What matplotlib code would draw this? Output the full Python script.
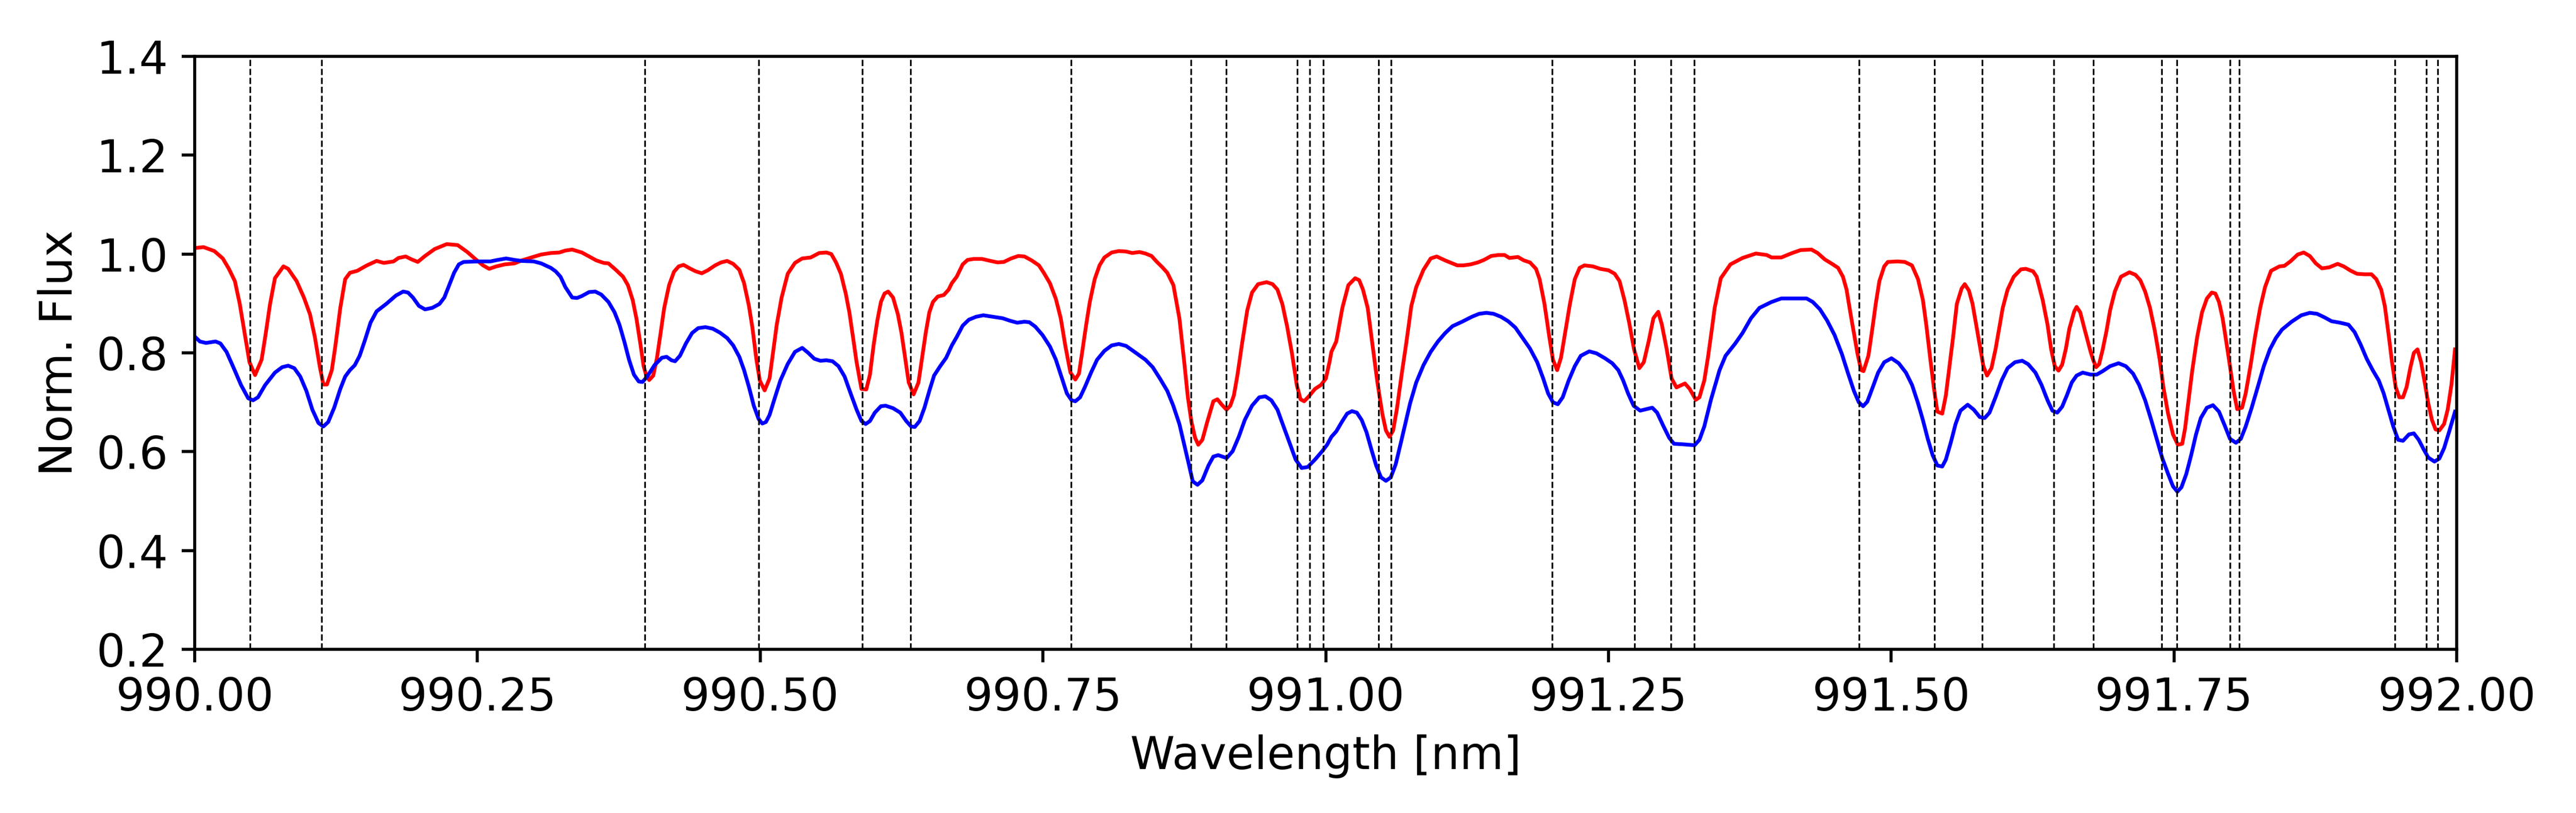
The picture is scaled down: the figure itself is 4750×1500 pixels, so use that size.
import numpy as np
import matplotlib
matplotlib.use('Agg')
import matplotlib.pyplot as plt
from matplotlib.ticker import FormatStrFormatter

# red spectrum (wavelength in nm, normalised flux)
red_wl = [
    990.0000, 990.0077, 990.0173, 990.0248, 990.0302, 990.0355, 990.0398, 990.0441, 990.0484, 990.0533,
    990.0591, 990.0623, 990.0666, 990.0709, 990.0784, 990.0826, 990.0901, 990.0965, 990.1019, 990.1062,
    990.1105, 990.1137, 990.1169, 990.1212, 990.1244, 990.1287, 990.1330, 990.1372, 990.1437, 990.1522,
    990.1608, 990.1672, 990.1758, 990.1801, 990.1865, 990.1918, 990.1972, 990.2036, 990.2121, 990.2228,
    990.2325, 990.2410, 990.2485, 990.2549, 990.2603, 990.2667, 990.2742, 990.2827, 990.2891, 990.2977,
    990.3063, 990.3148, 990.3223, 990.3277, 990.3337,
    990.3423, 990.3487, 990.3551, 990.3616, 990.3658, 990.3723, 990.3787, 990.3830, 990.3872, 990.3905,
    990.3937, 990.3969, 990.3990, 990.4018, 990.4054, 990.4087, 990.4119, 990.4151, 990.4194, 990.4237,
    990.4279, 990.4322, 990.4376, 990.4429, 990.4483, 990.4536, 990.4601, 990.4654, 990.4707, 990.4761,
    990.4815, 990.4857, 990.4900, 990.4932, 990.4964, 990.4996, 990.5039, 990.5082, 990.5114, 990.5146,
    990.5189, 990.5243, 990.5307, 990.5371, 990.5446, 990.5521, 990.5585, 990.5628, 990.5670, 990.5713,
    990.5756, 990.5788, 990.5820, 990.5852, 990.5895, 990.5938, 990.5970, 990.6002, 990.6035, 990.6067,
    990.6099, 990.6131, 990.6174, 990.6217, 990.6249, 990.6281, 990.6313, 990.6356, 990.6399, 990.6431,
    990.6463, 990.6495, 990.6527, 990.6570, 990.6623, 990.6666, 990.6694,
    990.6737, 990.6790, 990.6833, 990.6886, 990.6961, 990.7036, 990.7100, 990.7154, 990.7218, 990.7282,
    990.7336, 990.7400, 990.7464, 990.7507, 990.7561, 990.7614, 990.7657, 990.7700, 990.7743, 990.7786,
    990.7818, 990.7850, 990.7882, 990.7914, 990.7957, 990.8000, 990.8043, 990.8107, 990.8171, 990.8235,
    990.8289, 990.8353, 990.8406, 990.8460, 990.8503, 990.8556, 990.8599, 990.8653, 990.8706, 990.8749,
    990.8781, 990.8813, 990.8845, 990.8873, 990.8909, 990.8952, 990.9006, 990.9042, 990.9081, 990.9123,
    990.9156, 990.9188, 990.9220, 990.9263, 990.9306, 990.9348, 990.9402, 990.9477, 990.9530, 990.9573,
    990.9616, 990.9659, 990.9702, 990.9744, 990.9777, 990.9809, 990.9851, 990.9905, 990.9958, 991.0001,
    991.0033, 991.0050,
    991.0093, 991.0147, 991.0200, 991.0260, 991.0296, 991.0329, 991.0371, 991.0414, 991.0457, 991.0500,
    991.0532, 991.0564, 991.0596, 991.0628, 991.0671, 991.0714, 991.0757, 991.0800, 991.0864, 991.0928,
    991.0981, 991.1056, 991.1121, 991.1163, 991.1217, 991.1281, 991.1345, 991.1399, 991.1463, 991.1527,
    991.1581, 991.1624, 991.1699, 991.1752, 991.1806, 991.1859, 991.1891, 991.1934, 991.1977, 991.2009,
    991.2046, 991.2080, 991.2116, 991.2159, 991.2202, 991.2245, 991.2287, 991.2362, 991.2427, 991.2501,
    991.2555, 991.2598, 991.2641, 991.2683, 991.2726, 991.2773, 991.2812, 991.2855, 991.2897, 991.2940,
    991.2972, 991.3015, 991.3058, 991.3101, 991.3176, 991.3218, 991.3272, 991.3304, 991.3347, 991.3379,
    991.3407,
    991.3439, 991.3493, 991.3578, 991.3685, 991.3803, 991.3899, 991.3942, 991.4028, 991.4113, 991.4199,
    991.4295, 991.4349, 991.4413, 991.4477, 991.4530, 991.4573, 991.4605, 991.4638, 991.4670, 991.4702,
    991.4734, 991.4755, 991.4798, 991.4830, 991.4863, 991.4895, 991.4938, 991.4970, 991.5055, 991.5119,
    991.5183, 991.5237, 991.5280, 991.5312, 991.5344, 991.5376, 991.5408, 991.5451, 991.5483, 991.5515,
    991.5547, 991.5580, 991.5622, 991.5650, 991.5687, 991.5719, 991.5751, 991.5783, 991.5815, 991.5847,
    991.5886, 991.5922, 991.5954, 991.5986, 991.6029, 991.6083, 991.6147, 991.6190, 991.6254, 991.6286,
    991.6339, 991.6382, 991.6414, 991.6446, 991.6479, 991.6511, 991.6543, 991.6575, 991.6618, 991.6639,
    991.6671, 991.6714, 991.6763,
    991.6785, 991.6811, 991.6838, 991.6870, 991.6903, 991.6935, 991.6977, 991.7031, 991.7106, 991.7159,
    991.7202, 991.7245, 991.7288, 991.7331, 991.7374, 991.7406, 991.7448, 991.7491, 991.7534, 991.7573,
    991.7598, 991.7630, 991.7662, 991.7705, 991.7748, 991.7791, 991.7834, 991.7866, 991.7898, 991.7930,
    991.7962, 991.7995, 991.8027, 991.8059, 991.8102, 991.8134, 991.8176, 991.8219, 991.8262, 991.8305,
    991.8358, 991.8433, 991.8476, 991.8529, 991.8594, 991.8647, 991.8701, 991.8754, 991.8808, 991.8872,
    991.8947, 991.9000, 991.9064, 991.9118, 991.9182, 991.9246, 991.9289, 991.9332, 991.9364, 991.9396,
    991.9428, 991.9460, 991.9492, 991.9525, 991.9557, 991.9589, 991.9621, 991.9653, 991.9685, 991.9717,
    991.9749, 991.9781, 991.9813, 991.9846, 991.9888, 991.9920, 991.9953, 991.9985,
]
red_flux = [
    1.012, 1.014, 1.006, 0.991, 0.970, 0.945, 0.899, 0.840, 0.781, 0.755,
    0.786, 0.832, 0.899, 0.951, 0.975, 0.970, 0.945, 0.912, 0.878, 0.832,
    0.773, 0.736, 0.736, 0.765, 0.815, 0.891, 0.949, 0.962, 0.966, 0.977,
    0.986, 0.982, 0.985, 0.992, 0.995, 0.989, 0.984, 0.996, 1.010, 1.020,
    1.018, 1.004, 0.989, 0.977, 0.970, 0.975, 0.979, 0.981, 0.987, 0.993,
    0.999, 1.002, 1.003, 1.007, 1.009,
    1.003, 0.995, 0.987, 0.982, 0.981, 0.968, 0.954, 0.937, 0.907, 0.870,
    0.823, 0.773, 0.756, 0.745, 0.754, 0.790, 0.840, 0.891, 0.937, 0.964,
    0.975, 0.978, 0.971, 0.965, 0.961, 0.967, 0.977, 0.983, 0.986, 0.980,
    0.968, 0.941, 0.895, 0.849, 0.790, 0.744, 0.724, 0.748, 0.802, 0.857,
    0.912, 0.960, 0.982, 0.991, 0.993, 1.002, 1.003, 1.000, 0.983, 0.960,
    0.920, 0.882, 0.832, 0.781, 0.727, 0.726, 0.756, 0.815, 0.865, 0.903,
    0.920, 0.924, 0.912, 0.878, 0.840, 0.790, 0.740, 0.716, 0.740, 0.790,
    0.840, 0.882, 0.903, 0.914, 0.917, 0.928, 0.941,
    0.954, 0.979, 0.988, 0.990, 0.990, 0.986, 0.983, 0.984, 0.991, 0.996,
    0.995, 0.987, 0.977, 0.962, 0.941, 0.909, 0.870, 0.811, 0.760, 0.746,
    0.758, 0.807, 0.857, 0.903, 0.949, 0.977, 0.993, 1.003, 1.006, 1.005,
    1.002, 1.004, 1.001, 0.996, 0.985, 0.973, 0.962, 0.937, 0.870, 0.781,
    0.710, 0.660, 0.628, 0.614, 0.624, 0.660, 0.702, 0.706, 0.695, 0.685,
    0.693, 0.714, 0.756, 0.823, 0.886, 0.922, 0.939, 0.943, 0.939, 0.928,
    0.899, 0.853, 0.798, 0.735, 0.706, 0.702, 0.712, 0.727, 0.735, 0.748,
    0.781, 0.802,
    0.823, 0.891, 0.937, 0.951, 0.947, 0.928, 0.891, 0.815, 0.740, 0.677,
    0.643, 0.630, 0.643, 0.685, 0.756, 0.823, 0.895, 0.933, 0.968, 0.991,
    0.995, 0.987, 0.981, 0.977, 0.977, 0.979, 0.983, 0.988, 0.996, 0.998,
    0.998, 0.992, 0.994, 0.987, 0.983, 0.970, 0.949, 0.899, 0.832, 0.786,
    0.765, 0.790, 0.840, 0.899, 0.949, 0.972, 0.977, 0.975, 0.970, 0.967,
    0.960, 0.945, 0.907, 0.861, 0.807, 0.769, 0.781, 0.823, 0.870, 0.883,
    0.857, 0.807, 0.748, 0.730, 0.738, 0.727, 0.705, 0.710, 0.744, 0.790,
    0.836,
    0.891, 0.951, 0.979, 0.992, 1.001, 0.998, 0.993, 0.993, 1.001, 1.008,
    1.009, 1.002, 0.989, 0.980, 0.972, 0.954, 0.928, 0.882, 0.840, 0.798,
    0.765, 0.763, 0.794, 0.844, 0.899, 0.945, 0.975, 0.984, 0.985, 0.984,
    0.977, 0.949, 0.907, 0.853, 0.790, 0.731, 0.681, 0.677, 0.714, 0.773,
    0.832, 0.899, 0.930, 0.939, 0.926, 0.899, 0.857, 0.815, 0.773, 0.754,
    0.769, 0.807, 0.849, 0.891, 0.928, 0.954, 0.969, 0.970, 0.965, 0.954,
    0.907, 0.857, 0.807, 0.773, 0.764, 0.776, 0.807, 0.849, 0.884, 0.893,
    0.882, 0.844, 0.802,
    0.786, 0.771, 0.777, 0.807, 0.844, 0.886, 0.924, 0.954, 0.963, 0.958,
    0.947, 0.924, 0.891, 0.844, 0.786, 0.731, 0.677, 0.635, 0.614, 0.616,
    0.647, 0.706, 0.765, 0.832, 0.882, 0.910, 0.922, 0.920, 0.903, 0.870,
    0.823, 0.773, 0.723, 0.686, 0.689, 0.718, 0.773, 0.836, 0.891, 0.933,
    0.966, 0.975, 0.976, 0.985, 0.999, 1.003, 0.996, 0.981, 0.971, 0.973,
    0.980, 0.975, 0.966, 0.960, 0.959, 0.959, 0.949, 0.928, 0.895, 0.840,
    0.781, 0.731, 0.710, 0.710, 0.731, 0.769, 0.800, 0.807, 0.781, 0.740,
    0.697, 0.664, 0.645, 0.643, 0.656, 0.685, 0.735, 0.807,
]

# blue spectrum
blue_wl = [
    990.0000, 990.0045, 990.0099, 990.0184, 990.0227, 990.0281, 990.0345, 990.0409, 990.0473, 990.0516,
    990.0559, 990.0623, 990.0709, 990.0773, 990.0826, 990.0880, 990.0933, 990.0987, 990.1040, 990.1094,
    990.1137, 990.1180, 990.1233, 990.1287, 990.1330, 990.1372, 990.1415, 990.1458, 990.1501, 990.1554,
    990.1608, 990.1693, 990.1779, 990.1843, 990.1886, 990.1929, 990.1982, 990.2036, 990.2100, 990.2164,
    990.2207, 990.2250, 990.2293, 990.2335, 990.2378, 990.2507, 990.2614, 990.2678, 990.2753, 990.2827,
    990.2891, 990.2998, 990.3063, 990.3148, 990.3191, 990.3234, 990.3277, 990.3337,
    990.3380, 990.3423, 990.3487, 990.3541, 990.3594, 990.3658, 990.3712, 990.3755, 990.3798, 990.3840,
    990.3883, 990.3926, 990.3958, 990.4001, 990.4065, 990.4130, 990.4172, 990.4215, 990.4247, 990.4290,
    990.4343, 990.4397, 990.4451, 990.4515, 990.4579, 990.4643, 990.4707, 990.4761, 990.4815, 990.4857,
    990.4900, 990.4943, 990.4986, 990.5018, 990.5050, 990.5082, 990.5125, 990.5178, 990.5242, 990.5307,
    990.5371, 990.5424, 990.5478, 990.5532, 990.5585, 990.5639, 990.5692, 990.5746, 990.5799, 990.5852,
    990.5895, 990.5932, 990.5970, 990.6013, 990.6067, 990.6109, 990.6174, 990.6238, 990.6291, 990.6334,
    990.6366, 990.6409, 990.6452, 990.6495, 990.6537, 990.6591, 990.6644, 990.6694,
    990.6737, 990.6790, 990.6844, 990.6908, 990.6972, 990.7058, 990.7143, 990.7208, 990.7272, 990.7336,
    990.7379, 990.7432, 990.7496, 990.7561, 990.7614, 990.7668, 990.7711, 990.7753, 990.7786, 990.7828,
    990.7871, 990.7925, 990.7978, 990.8043, 990.8107, 990.8171, 990.8235, 990.8321, 990.8406, 990.8470,
    990.8534, 990.8599, 990.8652, 990.8706, 990.8749, 990.8792, 990.8824, 990.8866, 990.8909, 990.8963,
    990.9006, 990.9049, 990.9124, 990.9177, 990.9231, 990.9284, 990.9348, 990.9412, 990.9466, 990.9519,
    990.9573, 990.9627, 990.9680, 990.9734, 990.9787, 990.9841, 990.9905, 990.9969, 991.0012, 991.0050,
    991.0093, 991.0147, 991.0189, 991.0232, 991.0275, 991.0318, 991.0361, 991.0403, 991.0446, 991.0489,
    991.0532, 991.0575, 991.0618, 991.0660, 991.0703, 991.0746, 991.0800, 991.0864, 991.0928, 991.0992,
    991.1056, 991.1121, 991.1206, 991.1292, 991.1356, 991.1420, 991.1484, 991.1549, 991.1613, 991.1677,
    991.1741, 991.1805, 991.1870, 991.1923, 991.1966, 991.2009, 991.2052, 991.2095, 991.2148, 991.2202,
    991.2255, 991.2330, 991.2394, 991.2469, 991.2533, 991.2587, 991.2630, 991.2673, 991.2722, 991.2780,
    991.2833, 991.2887, 991.2930, 991.2983, 991.3037, 991.3079, 991.3154, 991.3208, 991.3261, 991.3304,
    991.3347, 991.3407,
    991.3439, 991.3482, 991.3535, 991.3621, 991.3685, 991.3760, 991.3835, 991.3942, 991.4028, 991.4113,
    991.4199, 991.4252, 991.4306, 991.4370, 991.4434, 991.4499, 991.4563, 991.4616, 991.4670, 991.4713,
    991.4751, 991.4788, 991.4831, 991.4884, 991.4938, 991.5002, 991.5066, 991.5130, 991.5184, 991.5237,
    991.5280, 991.5323, 991.5366, 991.5408, 991.5451, 991.5483, 991.5526, 991.5569, 991.5612, 991.5676,
    991.5730, 991.5783, 991.5826, 991.5869, 991.5922, 991.5976, 991.6029, 991.6094, 991.6158, 991.6211,
    991.6275, 991.6329, 991.6382, 991.6425, 991.6468, 991.6511, 991.6553, 991.6596, 991.6639, 991.6693,
    991.6763,
    991.6817, 991.6870, 991.6935, 991.7010, 991.7074, 991.7138, 991.7192, 991.7245, 991.7299, 991.7352,
    991.7395, 991.7448, 991.7491, 991.7530, 991.7566, 991.7609, 991.7652, 991.7695, 991.7737, 991.7791,
    991.7845, 991.7898, 991.7952, 991.7995, 991.8048, 991.8091, 991.8134, 991.8187, 991.8241, 991.8294,
    991.8348, 991.8401, 991.8455, 991.8540, 991.8626, 991.8701, 991.8765, 991.8829, 991.8893, 991.8968,
    991.9043, 991.9097, 991.9150, 991.9204, 991.9257, 991.9311, 991.9354, 991.9396, 991.9439, 991.9482,
    991.9525, 991.9578, 991.9621, 991.9664, 991.9707, 991.9749, 991.9803, 991.9846, 991.9888, 991.9931,
    991.9985,
]
blue_flux = [
    0.833, 0.823, 0.820, 0.823, 0.819, 0.802, 0.769, 0.735, 0.708, 0.704,
    0.710, 0.735, 0.760, 0.771, 0.774, 0.769, 0.752, 0.723, 0.685, 0.658,
    0.651, 0.660, 0.689, 0.727, 0.752, 0.765, 0.775, 0.794, 0.823, 0.861,
    0.884, 0.899, 0.916, 0.924, 0.922, 0.912, 0.895, 0.888, 0.891, 0.899,
    0.912, 0.937, 0.962, 0.979, 0.984, 0.985, 0.985, 0.988, 0.991, 0.988,
    0.986, 0.985, 0.981, 0.972, 0.965, 0.954, 0.933, 0.912,
    0.911, 0.915, 0.923, 0.924, 0.918, 0.903, 0.882, 0.857, 0.823, 0.786,
    0.756, 0.742, 0.741, 0.752, 0.775, 0.790, 0.792, 0.785, 0.783, 0.794,
    0.819, 0.840, 0.850, 0.852, 0.849, 0.841, 0.830, 0.815, 0.792, 0.765,
    0.731, 0.693, 0.666, 0.657, 0.660, 0.674, 0.706, 0.744, 0.777, 0.802,
    0.810, 0.800, 0.788, 0.784, 0.785, 0.783, 0.773, 0.752, 0.718, 0.685,
    0.662, 0.656, 0.662, 0.679, 0.692, 0.693, 0.688, 0.679, 0.662, 0.651,
    0.650, 0.662, 0.689, 0.723, 0.754, 0.773, 0.790, 0.815,
    0.832, 0.855, 0.867, 0.873, 0.876, 0.873, 0.870, 0.865, 0.861, 0.863,
    0.862, 0.853, 0.836, 0.813, 0.786, 0.748, 0.718, 0.704, 0.702, 0.710,
    0.731, 0.760, 0.786, 0.804, 0.815, 0.818, 0.814, 0.800, 0.786, 0.771,
    0.748, 0.723, 0.693, 0.656, 0.614, 0.572, 0.540, 0.533, 0.542, 0.572,
    0.590, 0.593, 0.587, 0.601, 0.630, 0.664, 0.693, 0.710, 0.712, 0.704,
    0.685, 0.651, 0.618, 0.584, 0.567, 0.569, 0.584, 0.601, 0.614, 0.630,
    0.641, 0.662, 0.677, 0.682, 0.679, 0.664, 0.639, 0.605, 0.572, 0.548,
    0.541, 0.548, 0.574, 0.614, 0.656, 0.698, 0.740, 0.775, 0.802, 0.823,
    0.840, 0.854, 0.863, 0.873, 0.879, 0.881, 0.879, 0.873, 0.864, 0.851,
    0.830, 0.809, 0.781, 0.748, 0.718, 0.700, 0.696, 0.710, 0.744, 0.773,
    0.794, 0.803, 0.799, 0.789, 0.779, 0.765, 0.744, 0.718, 0.693, 0.683,
    0.686, 0.689, 0.679, 0.653, 0.628, 0.616, 0.615, 0.614, 0.613, 0.624,
    0.651, 0.706,
    0.731, 0.765, 0.794, 0.819, 0.840, 0.870, 0.891, 0.903, 0.910, 0.910,
    0.910, 0.910, 0.903, 0.888, 0.865, 0.836, 0.798, 0.760, 0.723, 0.700,
    0.692, 0.701, 0.727, 0.760, 0.781, 0.789, 0.779, 0.760, 0.735, 0.698,
    0.664, 0.626, 0.593, 0.572, 0.570, 0.584, 0.618, 0.656, 0.683, 0.695,
    0.685, 0.670, 0.668, 0.679, 0.710, 0.744, 0.769, 0.781, 0.784, 0.777,
    0.760, 0.735, 0.704, 0.683, 0.679, 0.691, 0.714, 0.740, 0.754, 0.760,
    0.756,
    0.756, 0.763, 0.773, 0.779, 0.773, 0.758, 0.735, 0.704, 0.664, 0.622,
    0.588, 0.555, 0.530, 0.519, 0.528, 0.555, 0.593, 0.635, 0.668, 0.689,
    0.694, 0.681, 0.651, 0.626, 0.618, 0.626, 0.651, 0.689, 0.731, 0.773,
    0.807, 0.830, 0.847, 0.863, 0.876, 0.881, 0.879, 0.872, 0.864, 0.861,
    0.857, 0.842, 0.817, 0.788, 0.765, 0.744, 0.718, 0.685, 0.651, 0.624,
    0.622, 0.635, 0.637, 0.624, 0.605, 0.588, 0.580, 0.586, 0.607, 0.639,
    0.681,
]

# marked line positions
line_wl = [
    990.049, 990.112, 990.398, 990.4986, 990.590, 990.633, 990.775, 990.881, 990.912, 990.9748,
    990.986, 990.998, 991.0467, 991.0578, 991.200, 991.2728, 991.305, 991.3256, 991.4714, 991.5384,
    991.5805, 991.6436, 991.6788, 991.739, 991.7527, 991.7997, 991.8075, 991.9455, 991.9729, 991.9832,
]

fig = plt.figure(figsize=(9.5, 3), dpi=500)
ax = fig.add_axes([0.0756, 0.2013, 0.9537 - 0.0756, 0.9307 - 0.2013])

ax.plot(red_wl, red_flux, color='red', lw=1.0)
ax.plot(blue_wl, blue_flux, color='blue', lw=1.0)
for w in line_wl:
    ax.axvline(w, color='k', ls='--', lw=0.45)

ax.set_xlim(990, 992)
ax.set_ylim(0.2, 1.4)
ax.set_xticks(np.arange(990, 992.01, 0.25))
ax.set_yticks(np.arange(0.2, 1.41, 0.2))
ax.xaxis.set_major_formatter(FormatStrFormatter('%.2f'))
ax.yaxis.set_major_formatter(FormatStrFormatter('%.1f'))
ax.tick_params(labelsize=12)
ax.set_xlabel('Wavelength [nm]', fontsize=12)
ax.set_ylabel('Norm. Flux', fontsize=12)

fig.savefig('out.png', dpi=500)
